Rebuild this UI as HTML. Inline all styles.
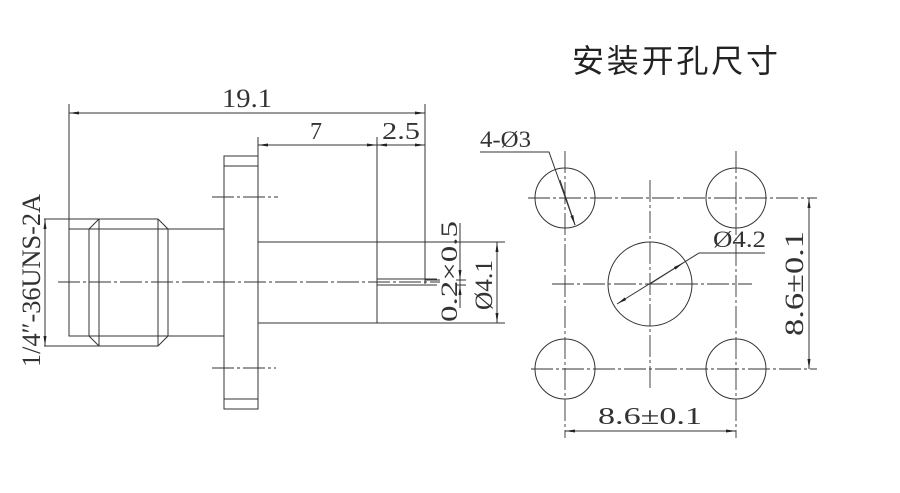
<!DOCTYPE html>
<html><head><meta charset="utf-8"><style>
html,body{margin:0;padding:0;background:#fff;}
svg{display:block}
text{font-family:"Liberation Serif","Noto Serif CJK SC",serif;fill:#333;}
</style></head><body>
<svg width="900" height="493" viewBox="0 0 900 493" xmlns="http://www.w3.org/2000/svg">
<defs>
<marker id="a" viewBox="0 0 10 4" refX="10" refY="2" markerWidth="10" markerHeight="4" orient="auto-start-reverse" markerUnits="userSpaceOnUse"><path d="M0,0.5 L10,2 L0,3.5z" fill="#222"/></marker>
</defs>
<text x="572" y="72" textLength="206" lengthAdjust="spacing" style="font-family:'Noto Sans CJK SC',sans-serif;font-size:32px;fill:#222">安装开孔尺寸</text>
<g stroke="#333" stroke-width="1" fill="none">
<line x1="69" y1="104" x2="69" y2="229"/>
<line x1="425" y1="104" x2="425" y2="284"/>
<line x1="258" y1="137" x2="258" y2="156"/>
<line x1="377" y1="137" x2="377" y2="323"/>
<line x1="69" y1="113" x2="425" y2="113" marker-start="url(#a)" marker-end="url(#a)"/>
<line x1="258" y1="145" x2="377" y2="145" marker-start="url(#a)" marker-end="url(#a)"/>
<line x1="377" y1="145" x2="425" y2="145" marker-start="url(#a)" marker-end="url(#a)"/>
<rect x="224" y="156" width="34" height="253"/>
<line x1="224" y1="166" x2="258" y2="166"/>
<line x1="224" y1="399" x2="258" y2="399"/>
<line x1="258" y1="242" x2="505" y2="242"/>
<line x1="258" y1="323" x2="505" y2="323"/>
<line x1="377" y1="279" x2="437" y2="279"/>
<line x1="377" y1="285" x2="437" y2="285"/>
<line x1="425" y1="280" x2="440" y2="280"/>
<line x1="168" y1="229" x2="224" y2="229"/>
<line x1="168" y1="336" x2="224" y2="336"/>
<path d="M89,229 L99,219 L158,219 L168,229 L168,336 L158,346 L99,346 L89,336 Z"/>
<line x1="99" y1="219" x2="99" y2="346"/>
<line x1="158" y1="219" x2="158" y2="346"/>
<line x1="89" y1="229" x2="168" y2="229"/>
<line x1="89" y1="336" x2="168" y2="336"/>
<rect x="69" y="229" width="20" height="107"/>
<line x1="44" y1="219" x2="99" y2="219"/>
<line x1="44" y1="346" x2="99" y2="346"/>
<line x1="45" y1="219" x2="45" y2="346" marker-start="url(#a)" marker-end="url(#a)"/>
<line x1="497" y1="242" x2="497" y2="323" marker-start="url(#a)" marker-end="url(#a)"/>
<line x1="460" y1="223" x2="460" y2="308"/>
<line x1="456" y1="280" x2="466" y2="280"/>
<line x1="456" y1="285" x2="466" y2="285"/>
<line x1="460" y1="265" x2="460" y2="280" marker-end="url(#a)"/>
<line x1="460" y1="300" x2="460" y2="285" marker-end="url(#a)"/>
<g stroke-dasharray="22,3,3,3" stroke-width="0.9">
<line x1="58" y1="282" x2="440" y2="282"/>
<line x1="212" y1="197" x2="278" y2="197"/>
<line x1="212" y1="368" x2="276" y2="368"/>
<line x1="528" y1="198" x2="817" y2="198"/>
<line x1="531" y1="369" x2="817" y2="369"/>
<line x1="565" y1="151" x2="565" y2="438"/>
<line x1="736" y1="151" x2="736" y2="438"/>
<line x1="650" y1="180" x2="650" y2="388"/>
<line x1="552" y1="284" x2="752" y2="284"/>
</g>
<circle cx="565" cy="198" r="30"/>
<circle cx="736" cy="198" r="30"/>
<circle cx="565" cy="369" r="30"/>
<circle cx="736" cy="369" r="30"/>
<circle cx="650" cy="284" r="42"/>
<line x1="809" y1="198" x2="809" y2="369" marker-start="url(#a)" marker-end="url(#a)"/>
<line x1="565" y1="431" x2="736" y2="431" marker-start="url(#a)" marker-end="url(#a)"/>
<path d="M480,152 L549,152 L575,225" />
<line x1="560" y1="180" x2="575" y2="225" marker-end="url(#a)"/>
<path d="M765,253 L699,253 L617,304" marker-end="url(#a)"/>
<line x1="650" y1="284" x2="683" y2="263" marker-end="url(#a)"/>
</g>
<text style="font-size:26px" x="222" y="107" textLength="50" lengthAdjust="spacingAndGlyphs">19.1</text>
<text style="font-size:24px" x="310" y="139" textLength="12" lengthAdjust="spacingAndGlyphs">7</text>
<text style="font-size:24px" x="382" y="139" textLength="38" lengthAdjust="spacingAndGlyphs">2.5</text>
<text style="font-size:23px" x="480" y="147" textLength="51" lengthAdjust="spacingAndGlyphs">4-Ø3</text>
<text style="font-size:23px" x="713" y="247" textLength="53" lengthAdjust="spacingAndGlyphs">Ø4.2</text>
<text style="font-size:24px" x="598" y="424" textLength="104" lengthAdjust="spacingAndGlyphs">8.6±0.1</text>
<text style="font-size:26px" transform="translate(40,281) rotate(-90)" x="-86" textLength="173" lengthAdjust="spacingAndGlyphs">1/4″-36UNS-2A</text>
<text style="font-size:23px" transform="translate(457,272) rotate(-90)" x="-50" textLength="101" lengthAdjust="spacingAndGlyphs">0.2×0.5</text>
<text style="font-size:25px" transform="translate(492,285) rotate(-90)" x="-25" textLength="50" lengthAdjust="spacingAndGlyphs">Ø4.1</text>
<text style="font-size:26px" transform="translate(803,284) rotate(-90)" x="-52" textLength="105" lengthAdjust="spacingAndGlyphs">8.6±0.1</text>
</svg>
</body></html>
